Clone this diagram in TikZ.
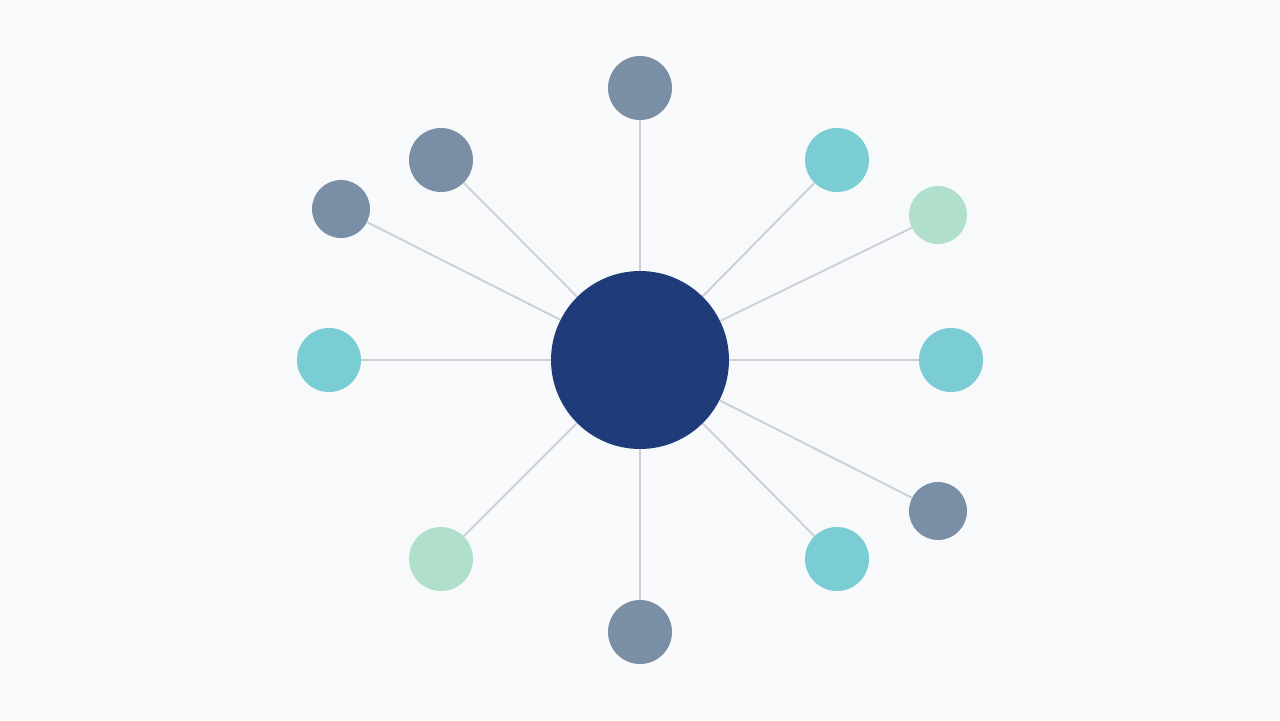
\documentclass[tikz,border=0pt]{standalone}
\definecolor{hubblue}{HTML}{1F3B7A}
\definecolor{slate}{HTML}{7A8FA6}
\definecolor{teal}{HTML}{7ACDD3}
\definecolor{mint}{HTML}{B0E0CC}
\definecolor{spoke}{HTML}{CDD1D6}
\definecolor{bg}{HTML}{F7F9FA}
\begin{document}
\begin{tikzpicture}[x=0.02cm,y=-0.02cm,
    every node/.style={
        circle,
        inner sep=0pt},
    leaf/.style={minimum size=1.28cm},
    small/.style={minimum size=1.16cm}]

    \fill[bg] (0,0) rectangle (1280,720);

    \node[fill=hubblue, minimum size=3.56cm] (H) at (640,360) {};

    \node[leaf, fill=slate] (N) at (640,88) {};
    \node[leaf, fill=slate] (NW) at (441,160) {};
    \node[small, fill=slate] (WNW) at (341,209) {};
    \node[leaf, fill=teal] (W) at (329,360) {};
    \node[leaf, fill=mint] (SW) at (441,559) {};
    \node[leaf, fill=slate] (S) at (640,632) {};
    \node[leaf, fill=teal] (SE) at (837,559) {};
    \node[small, fill=slate] (ESE) at (938,511) {};
    \node[leaf, fill=teal] (E) at (951,360) {};
    \node[small, fill=mint] (ENE) at (938,215) {};
    \node[leaf, fill=teal] (NE) at (837,160) {};

    \foreach \n in {N,NW,WNW,W,SW,S,SE,ESE,E,ENE,NE}
        \draw[spoke, line width=1.1pt] (H) -- (\n);
\end{tikzpicture}
\end{document}
